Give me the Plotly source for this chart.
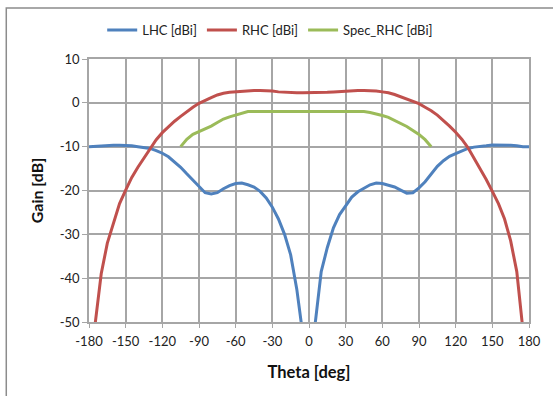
import plotly.graph_objects as go

theta = list(range(-180, 181, 5))

lhc = [-10, -9.9, -9.8, -9.7, -9.7, -9.7, -9.7, -9.8, -10.0, -10.2,
       -10.4, -10.9, -11.5, -12.3, -13.4, -14.7, -16.2, -17.7, -19.1, -20.5,
       -20.8, -20.5, -19.6, -18.9, -18.4, -18.3, -18.7, -19.2, -20.2, -21.7,
       -23.8, -26.5, -30.0, -34.7, -42.5, -53, -70, -50.5, -38.5, -33,
       -28.5, -25.5, -23.5, -21.5, -20.3, -19.4, -18.7, -18.3, -18.4, -18.8,
       -19.2, -19.9, -20.6, -20.5, -19.4, -18, -16.2, -14.5, -13.2, -12.2,
       -11.6, -11, -10.4, -10.1, -10, -9.8, -9.6, -9.6, -9.6, -9.7,
       -9.8, -10, -10]

rhc = [-62, -50, -39, -32, -27.2, -23, -19.9, -17, -14.7, -12.6,
       -10.5, -8.4, -6.8, -5.4, -4.2, -3.1, -2.0, -1.0, -0.1, 0.6,
       1.2, 1.8, 2.2, 2.4, 2.5, 2.7, 2.8, 2.8, 2.8, 2.8,
       2.7, 2.5, 2.4, 2.4, 2.3, 2.3, 2.3, 2.3, 2.3, 2.4,
       2.5, 2.6, 2.7, 2.8, 2.8, 2.8, 2.8, 2.7, 2.5, 2.3,
       1.9, 1.4, 0.8, 0.3, -0.2, -1.0, -1.8, -2.8, -4.0, -5.3,
       -6.7, -8.3, -10.2, -12.6, -15.3, -17.5, -20.2, -23, -26.5, -31.5,
       -38.5, -52, -65]

spec_theta = list(range(-105, 106, 5))
spec_rhc = [-10, -8.3, -7.2, -6.6, -5.9, -5.3, -4.5, -3.7, -3.2, -2.8,
            -2.4, -2.0, -2.0, -2.0, -2.0, -2.0, -2.0, -2.0, -2.0, -2.0,
            -2.0, -2.0, -2.0, -2.0, -2.0, -2.0, -2.0, -2.0, -2.0, -2.0,
            -2.0, -2.2, -2.5, -2.9, -3.3, -4.0, -4.7, -5.4, -6.3, -7.2,
            -8.4, -10]

x_ticks = [-180, -150, -120, -90, -60, -30, 0, 30, 60, 90, 120, 150, 180]
y_ticks = [10, 0, -10, -20, -30, -40, -50]

FONT = "Lato"
GRID = "#a6a6a6"
TXT = "#222222"

fig = go.Figure()
fig.add_trace(go.Scatter(x=theta, y=lhc, mode="lines", name="LHC [dBi]",
                         line=dict(color="#4f81bd", width=3)))
fig.add_trace(go.Scatter(x=theta, y=rhc, mode="lines", name="RHC [dBi]",
                         line=dict(color="#c0504d", width=3)))
fig.add_trace(go.Scatter(x=spec_theta, y=spec_rhc, mode="lines", name="Spec_RHC [dBi]",
                         line=dict(color="#9bbb59", width=3)))

fig.update_layout(
    width=553, height=396,
    margin=dict(l=89, r=24, t=59, b=74, autoexpand=False),
    paper_bgcolor="white", plot_bgcolor="white",
    font=dict(family=FONT, size=13, color=TXT),
    showlegend=True,
    legend=dict(orientation="h", x=0.03, xanchor="left", y=1.11, yanchor="middle",
                font=dict(family=FONT, size=13, color=TXT),
                itemwidth=30, tracegroupgap=0, bgcolor="rgba(0,0,0,0)"),
    shapes=[dict(type="rect", xref="paper", yref="paper",
                 x0=-0.188, x1=1.2, y0=-0.4, y1=1.194,
                 line=dict(color="#8c8c8c", width=1.5), layer="below")],
)

fig.update_xaxes(range=[-180, 180], tickvals=x_ticks, ticktext=[str(v) for v in x_ticks],
                 showgrid=True, gridcolor=GRID, gridwidth=1.5,
                 showline=True, linecolor=GRID, linewidth=1.5, mirror=True,
                 ticks="outside", ticklen=4, tickcolor=GRID, zeroline=False,
                 ticklabelstandoff=3,
                 tickfont=dict(family=FONT, size=13, color=TXT),
                 title=dict(text="<b>Theta [deg]</b>", font=dict(family=FONT, size=16.5, color="#111111"),
                            standoff=18))
fig.update_yaxes(range=[-50, 10], tickvals=y_ticks, ticktext=[str(v) for v in y_ticks],
                 showgrid=True, gridcolor=GRID, gridwidth=1.5,
                 showline=True, linecolor=GRID, linewidth=1.5, mirror=True,
                 ticks="outside", ticklen=5, tickcolor=GRID, zeroline=False,
                 ticklabelstandoff=0,
                 tickfont=dict(family=FONT, size=13, color=TXT),
                 title=dict(text="<b>Gain [dB]</b>", font=dict(family=FONT, size=16, color="#111111"),
                            standoff=12))

fig.write_html("out.html", config={"displayModeBar": False},
               post_script="document.body.style.margin='0';document.body.style.padding='0';")
